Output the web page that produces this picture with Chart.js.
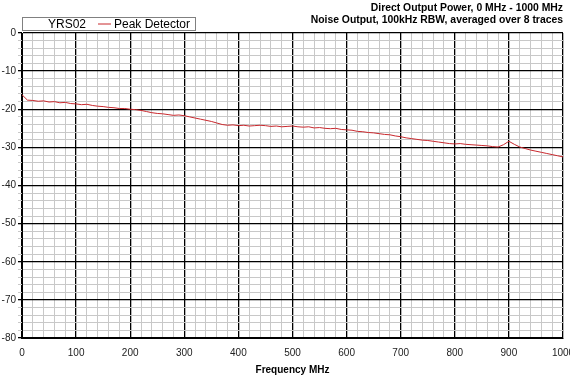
<!DOCTYPE html>
<html>
<head>
<meta charset="utf-8">
<script src="https://cdn.jsdelivr.net/npm/chart.js@4/dist/chart.umd.min.js"></script>
<style>
  html, body { margin: 0; padding: 0; background: #fff; }
  #wrap { width: 570px; height: 380px; position: relative; }
</style>
</head>
<body>
<div id="wrap"><canvas id="chart" width="570" height="380"></canvas></div>
<script>
// Chart text
const titleLines = ['Direct Output Power, 0 MHz - 1000 MHz', 'Noise Output, 100kHz RBW, averaged over 8 traces'];
const legendName = 'YRS02';
const seriesName = 'Peak Detector';
const xTitle = 'Frequency MHz';

// Frequency points (MHz), every 10 MHz
const freqs = [
    0, 10, 20, 30, 40, 50, 60, 70, 80, 90,
    100, 110, 120, 130, 140, 150, 160, 170, 180, 190,
    200, 210, 220, 230, 240, 250, 260, 270, 280, 290,
    300, 310, 320, 330, 340, 350, 360, 370, 380, 390,
    400, 410, 420, 430, 440, 450, 460, 470, 480, 490,
    500, 510, 520, 530, 540, 550, 560, 570, 580, 590,
    600, 610, 620, 630, 640, 650, 660, 670, 680, 690,
    700, 710, 720, 730, 740, 750, 760, 770, 780, 790,
    800, 810, 820, 830, 840, 850, 860, 870, 880, 890,
    900, 910, 920, 930, 940, 950, 960, 970, 980, 990,
    1000
];

// Peak detector level (dBm)
const peakLevels = [
    -16.2, -17.6, -17.7, -17.9, -17.8, -18.1, -18.0, -18.3, -18.2, -18.5,
    -18.6, -18.8, -18.7, -19.0, -19.2, -19.3, -19.5, -19.6, -19.8, -19.8,
    -20.0, -20.1, -20.3, -20.6, -20.9, -21.1, -21.2, -21.4, -21.6, -21.5,
    -21.7, -22.0, -22.3, -22.6, -22.9, -23.2, -23.6, -24.0, -24.2, -24.1,
    -24.3, -24.2, -24.4, -24.3, -24.2, -24.3, -24.5, -24.4, -24.6, -24.5,
    -24.4, -24.6, -24.7, -24.6, -24.9, -24.8, -25.0, -25.1, -25.0, -25.3,
    -25.4, -25.5, -25.8, -25.9, -26.1, -26.2, -26.4, -26.6, -26.7, -27.0,
    -27.2, -27.5, -27.7, -27.9, -28.1, -28.2, -28.4, -28.6, -28.8, -29.0,
    -29.1, -29.0, -29.2, -29.3, -29.4, -29.5, -29.6, -29.8, -29.9, -29.3,
    -28.4, -29.2, -29.9, -30.3, -30.7, -31.0, -31.3, -31.6, -31.9, -32.2,
    -32.5
];

// Axis ranges
const xMin = 0, xMax = 1000, xMajor = 100, xMinor = 20;
const yMin = -80, yMax = 0, yMajor = 10, yMinor = 2;

const points = freqs.map((f, i) => ({ x: f, y: peakLevels[i] }));

const FONT = 'Arial, "Liberation Sans", sans-serif';

function isMajor(v, step) {
    return Math.abs(v / step - Math.round(v / step)) < 1e-6;
}

// Titles and legend box drawn on top
const decorPlugin = {
    id: 'decor',
    afterDraw(chart) {
        const ctx = chart.ctx;
        const area = chart.chartArea;
        ctx.save();

        // titles, right aligned
        ctx.fillStyle = '#000';
        ctx.font = 'bold 10.4px ' + FONT;
        ctx.textAlign = 'right';
        ctx.textBaseline = 'middle';
        ctx.fillText(titleLines[0], area.right, 8);
        ctx.fillText(titleLines[1], area.right, 20);

        // legend box
        const bx = area.left, by = 17, bw = 173, bh = 13;
        ctx.fillStyle = '#fff';
        ctx.fillRect(bx, by, bw, bh);
        ctx.strokeStyle = '#808080';
        ctx.lineWidth = 1;
        ctx.strokeRect(bx + 0.5, by + 0.5, bw, bh);

        ctx.fillStyle = '#000';
        ctx.font = '12px ' + FONT;
        ctx.textAlign = 'left';
        ctx.fillText(legendName, bx + 26, by + bh / 2 + 1);

        ctx.strokeStyle = '#c8282d';
        ctx.beginPath();
        ctx.moveTo(bx + 76, by + bh / 2 + 0.5);
        ctx.lineTo(bx + 89, by + bh / 2 + 0.5);
        ctx.stroke();
        ctx.fillText(seriesName, bx + 92, by + bh / 2 + 1);

        ctx.restore();
    }
};

new Chart(document.getElementById('chart'), {
    type: 'line',
    data: {
        datasets: [{
            label: seriesName,
            data: points,
            borderColor: '#c8282d',
            borderWidth: 1,
            pointRadius: 0,
            tension: 0,
            fill: false
        }]
    },
    options: {
        responsive: false,
        animation: false,
        layout: { padding: { top: 33, right: 7, left: 0, bottom: 0 } },
        plugins: {
            legend: { display: false },
            title: { display: false },
            tooltip: { enabled: false }
        },
        scales: {
            x: {
                type: 'linear',
                min: xMin,
                max: xMax,
                ticks: {
                    stepSize: xMinor,
                    autoSkip: false,
                    maxRotation: 0,
                    color: '#222',
                    font: { family: FONT, size: 10 },
                    padding: 9,
                    callback: v => isMajor(v, xMajor) ? v : ''
                },
                grid: {
                    color: ctx => isMajor(ctx.tick.value, xMajor) ? '#000' : '#c8c8c8',
                    lineWidth: ctx => isMajor(ctx.tick.value, xMajor) ? 1.3 : 1,
                    tickLength: 0
                },
                border: { display: true, color: '#000', width: 1 },
                title: {
                    display: true,
                    align: 'center',
                    text: xTitle,
                    color: '#000',
                    font: { family: FONT, size: 10, weight: 'bold' },
                    padding: { top: 0, bottom: 4 }
                },
                afterFit(scale) {
                    scale.height = 42;
                    scale.paddingRight = 0;
                }
            },
            y: {
                type: 'linear',
                min: yMin,
                max: yMax,
                ticks: {
                    stepSize: yMinor,
                    autoSkip: false,
                    color: '#222',
                    font: { family: FONT, size: 10 },
                    padding: 2,
                    callback: v => isMajor(v, yMajor) ? v : ''
                },
                grid: {
                    color: ctx => isMajor(ctx.tick.value, yMajor) ? '#000' : '#c8c8c8',
                    lineWidth: ctx => isMajor(ctx.tick.value, yMajor) ? 1.3 : 1,
                    tickLength: 4
                },
                border: { display: true, color: '#000', width: 1 },
                afterFit(scale) { scale.width = 22; }
            }
        }
    },
    plugins: [decorPlugin]
});
</script>
</body>
</html>
